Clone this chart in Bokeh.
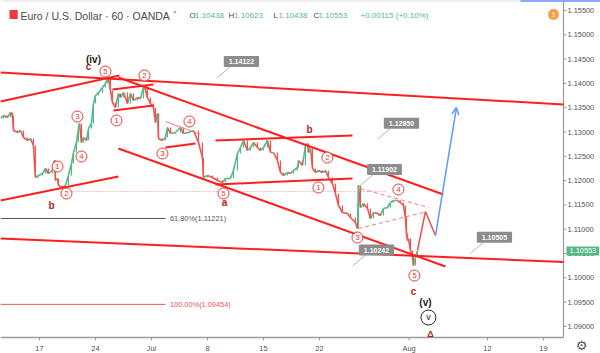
from bokeh.plotting import figure
from bokeh.models import (Range1d, FixedTicker, PrintfTickFormatter, LinearAxis, Label,
                          Arrow, OpenHead)
from bokeh.embed import file_html
from bokeh.resources import INLINE
from bokeh.core.properties import value

# ---------------- data (x = trading days from Mon 17 Jun 2019, y = EUR/USD) ----------------
price_day = [-3.48, -3.21, -2.86, -2.59, -2.41, -2.32, -1.96, -1.70, -1.43, -1.07, -0.80, -0.54,
             -0.36, -0.09, 0.27, 0.54, 0.80, 1.16, 1.34, 1.43, 1.61, 1.70, 2.05, 2.32, 2.59, 2.86,
             3.04, 3.30, 3.48, 3.57, 3.75, 3.93, 4.20, 4.38, 4.64, 4.82, 5.00, 5.27, 5.63, 5.89,
             6.07, 6.16, 6.34, 6.52, 6.79, 7.05, 7.23, 7.50, 7.86, 8.13, 8.39, 8.75, 9.02, 9.29,
             9.38, 9.64, 9.91, 10.18, 10.36, 10.54, 10.63, 10.98, 11.25, 11.43, 11.70, 12.14,
             12.59, 12.86, 13.30, 13.75, 14.20, 14.55, 14.64, 15.00, 15.45, 15.89, 16.34, 16.61,
             17.05, 17.32, 17.68, 17.95, 18.21, 18.57, 18.84, 19.11, 19.46, 19.73, 20.00, 20.36,
             20.63, 20.89, 21.25, 21.52, 21.79, 22.14, 22.41, 22.68, 23.04, 23.13, 23.48, 23.75,
             23.93, 24.02, 24.20, 24.38, 24.64, 24.91, 25.27, 25.54, 25.80, 26.16, 26.43, 26.70,
             27.05, 27.50, 27.77, 28.21, 28.39, 28.48, 28.66, 28.93, 29.29, 29.55, 29.82, 30.18,
             30.45, 30.71, 31.07, 31.34, 31.61, 31.96, 32.23, 32.50, 32.68, 32.77, 32.86, 32.95,
             33.13, 33.30, 33.39, 33.57, 33.75]
price_close = [1.13278, 1.13340, 1.13298, 1.13401, 1.13340, 1.13031, 1.12990, 1.13031, 1.12887,
               1.12825, 1.12866, 1.12722, 1.12064, 1.12105, 1.12146, 1.12249, 1.12146, 1.12208,
               1.12414, 1.12002, 1.12043, 1.11899, 1.11858, 1.11899, 1.12105, 1.12352, 1.12578,
               1.12784, 1.13072, 1.13175, 1.12784, 1.12887, 1.12825, 1.13072, 1.13175, 1.13586,
               1.13751, 1.13813, 1.13916, 1.13998, 1.14101, 1.14121, 1.13854, 1.13607, 1.13504,
               1.13792, 1.13710, 1.13813, 1.13586, 1.13792, 1.13648, 1.13710, 1.13689, 1.13916,
               1.13936, 1.13710, 1.13586, 1.13504, 1.13196, 1.13381, 1.12866, 1.12825, 1.12887,
               1.13093, 1.12969, 1.12990, 1.13093, 1.12969, 1.12990, 1.13031, 1.12784, 1.12475,
               1.12064, 1.12105, 1.12064, 1.12002, 1.11961, 1.12043, 1.12043, 1.12208, 1.12558,
               1.12681, 1.12825, 1.12619, 1.12681, 1.12784, 1.12681, 1.12619, 1.12681, 1.12825,
               1.12578, 1.12578, 1.12414, 1.12167, 1.12105, 1.12167, 1.12146, 1.12208, 1.12270,
               1.12414, 1.12311, 1.12722, 1.12763, 1.12578, 1.12660, 1.12249, 1.12167, 1.12208,
               1.12167, 1.12208, 1.12064, 1.11940, 1.11735, 1.11488, 1.11344, 1.11323, 1.11241,
               1.11138, 1.11014, 1.11902, 1.11447, 1.11529, 1.11426, 1.11220, 1.11344, 1.11323,
               1.11282, 1.11426, 1.11447, 1.11550, 1.11591, 1.11591, 1.11550, 1.11488, 1.11241,
               1.10912, 1.10767, 1.10809, 1.10562, 1.10459, 1.10253, 1.10418, 1.10553]

x_tick_days = [0, 5, 10, 15, 20, 25, 33, 40, 45]
x_tick_labels = ["17", "24", "Jul", "8", "15", "22", "Aug", "12", "19"]
y_ticks = [1.090, 1.095, 1.100, 1.105, 1.110, 1.115, 1.120, 1.125, 1.130, 1.135, 1.140,
           1.145, 1.150, 1.155]

# trend lines (start day, start price, end day, end price)
line_x0 = [-3.48, -3.48, 7.05, 7.05, -3.48, -3.48, 6.52, 6.61, 11.25, 15.71, 15.71]
line_y0 = [1.14224, 1.13628, 1.14121, 1.12661, 1.10809, 1.11591, 1.13875, 1.13442, 1.12681,
           1.12825, 1.11920]
line_x1 = [46.79, 7.14, 36.07, 36.25, 46.79, 7.05, 10.18, 10.18, 13.93, 27.95, 27.95]
line_y1 = [1.13566, 1.14163, 1.11714, 1.10233, 1.10325, 1.12084, 1.13977, 1.13545, 1.12763,
           1.12928, 1.12043]
thin_x0, thin_y0, thin_x1, thin_y1 = [11.25], [1.13216], [14.38], [1.12949]
dash_x0 = [28.66, 28.48]
dash_y0 = [1.11837, 1.11014]
dash_x1 = [34.73, 34.29]
dash_y1 = [1.11447, 1.11344]
dot_level, dot_from, dot_to = 1.11776, 2.14, 31.07
proj_day = [33.75, 34.46, 35.36]
proj_price = [1.10562, 1.11364, 1.10870]
blue_day = [35.36, 37.23]
blue_price = [1.10870, 1.13504]

fib_levels = [1.11221, 1.09454]
fib_texts = ["61.80%(1.11221)", "100.00%(1.09454)"]
fib_end_day = 11.25

callout_day = [15.89, 30.18, 28.66, 27.95, 38.48]
callout_price = [1.14122, 1.12850, 1.11902, 1.10242, 1.10505]
callout_text = ["1.14122", "1.12850", "1.11902", "1.10242", "1.10505"]

wave_day = [5.89, 3.39, 3.75, 1.61, 2.41, 6.88, 9.38, 13.39, 10.98, 16.43, 25.71, 24.91,
            32.05, 28.39, 33.48]
wave_price = [1.14245, 1.13319, 1.12496, 1.12290, 1.11735, 1.13237, 1.14163, 1.13216,
              1.12558, 1.11735, 1.12475, 1.11858, 1.11817, 1.10829, 1.10047]
wave_text = ["5", "3", "4", "1", "2", "1", "2", "4", "3", "5", "2", "1", "4", "3", "5"]

letter_day = [4.38, 1.07, 16.52, 24.11, 33.39]
letter_price = [1.14348, 1.11488, 1.11550, 1.13051, 1.09718]
letter_text = ["c", "b", "a", "b", "c"]

last_close = 1.10553

# ---------------- figure ----------------
FONT = "Liberation Sans"
RED = "#ff1f1f"
WAVE_RED = "#e53935"
LETTER_RED = "#b71c1c"
GREEN = "#53b987"
BLUE = "#5b9cf6"
AXIS_GREY = "#9a9a9a"
W, H = 600, 353             # frame covers the whole page; scales drawn inside it
CHART_W, CHART_H = 563, 337
X_LO = -3.48
DX = (46.79 - X_LO) / CHART_W
X_HI = X_LO + W * DX
X_SCALE = X_LO + CHART_W * DX
Y_HI = 1.15706
DY = (Y_HI - 1.08772) / CHART_H
Y_AX = Y_HI - CHART_H * DY          # price at the time-axis line
Y_LO = Y_HI - H * DY

p = figure(frame_width=W, frame_height=H, x_range=Range1d(X_LO, X_HI),
           y_range=Range1d(Y_LO, Y_HI), output_backend="svg", toolbar_location=None,
           x_axis_location=None, y_axis_location=None, title=None,
           min_border_left=0, min_border_top=0, min_border_right=0, min_border_bottom=0,
           outline_line_color=None, background_fill_color="white", border_fill_color="white")
p.grid.visible = False

# price scale: axis on the right edge, labels pulled back into the scale strip
yaxis = LinearAxis(ticker=FixedTicker(ticks=y_ticks), formatter=PrintfTickFormatter(format="%.5f"),
                   major_label_text_font_size="7.4px", major_label_text_color="#505050",
                   major_label_text_font=FONT, axis_line_color=None,
                   major_tick_line_color=None, major_tick_out=0, major_tick_in=0,
                   minor_tick_out=0, minor_tick_in=0, major_label_standoff=-(W - CHART_W - 4))
p.add_layout(yaxis, "right")
# time scale: axis on the bottom edge, labels pulled up under the chart
xaxis = LinearAxis(ticker=FixedTicker(ticks=x_tick_days),
                   major_label_overrides={d: l for d, l in zip(x_tick_days, x_tick_labels)},
                   major_label_text_font_size="7.4px", major_label_text_color="#505050",
                   major_label_text_font=FONT, axis_line_color=None,
                   major_tick_line_color=None, major_tick_out=0, major_tick_in=0,
                   minor_tick_out=0, minor_tick_in=0, major_label_standoff=-(H - CHART_H - 6))
p.add_layout(xaxis, "below")
# scale border lines and ticks
p.segment(x0=[X_SCALE], y0=[Y_AX], x1=[X_SCALE], y1=[Y_HI], line_color=AXIS_GREY, line_width=1.2)
p.segment(x0=[X_LO], y0=[Y_AX], x1=[X_SCALE], y1=[Y_AX], line_color=AXIS_GREY, line_width=1.5)
p.segment(x0=[X_SCALE] * len(y_ticks), y0=y_ticks, x1=[X_SCALE + 3 * DX] * len(y_ticks),
          y1=y_ticks, line_color=AXIS_GREY, line_width=1)
p.segment(x0=x_tick_days, y0=[Y_AX] * len(x_tick_days), x1=x_tick_days,
          y1=[Y_AX - 3 * DY] * len(x_tick_days), line_color=AXIS_GREY, line_width=1)
# top border of the chart window
p.segment(x0=[X_LO], y0=[Y_HI], x1=[X_HI], y1=[Y_HI], line_color="#dfe1e6", line_width=2)
p.segment(x0=[X_LO + 520 * DX], y0=[Y_HI], x1=[X_HI], y1=[Y_HI], line_color="#2962ff",
          line_width=2)

# dotted level
p.segment(x0=[dot_from], y0=[dot_level], x1=[dot_to], y1=[dot_level], line_color="#f28b8b",
          line_width=1, line_dash="1 2")

# price path (candle-like coloured moves)
opens = [price_close[0]] + price_close[:-1]
t_prev = [price_day[0]] + price_day[:-1]
colors = [GREEN if c >= o else "#ef5350" for o, c in zip(opens, price_close)]
p.segment(x0=t_prev, y0=opens, x1=price_day, y1=price_close, line_color=colors, line_width=1.6)
p.segment(x0=price_day, y0=opens, x1=price_day, y1=price_close, line_color=colors, line_width=1.2)

# fib levels
p.segment(x0=[X_LO], y0=[fib_levels[0]], x1=[fib_end_day], y1=[fib_levels[0]],
          line_color="#555555", line_width=1)
p.segment(x0=[X_LO], y0=[fib_levels[1]], x1=[fib_end_day], y1=[fib_levels[1]],
          line_color="#f0505a", line_width=1)
p.text(x=[fib_end_day + 0.4], y=[fib_levels[0]], text=[fib_texts[0]], text_baseline="middle",
       text_font_size="7.4px", text_color="#555555", text_font=value(FONT))
p.text(x=[fib_end_day + 0.4], y=[fib_levels[1]], text=[fib_texts[1]], text_baseline="middle",
       text_font_size="7.4px", text_color="#f0505a", text_font=value(FONT))

# trend lines
p.segment(x0=line_x0, y0=line_y0, x1=line_x1, y1=line_y1, line_color=RED, line_width=2)
p.segment(x0=thin_x0, y0=thin_y0, x1=thin_x1, y1=thin_y1, line_color="#f47c7c", line_width=1)
p.segment(x0=dash_x0, y0=dash_y0, x1=dash_x1, y1=dash_y1, line_color="#f47c7c", line_width=1,
          line_dash="4 3")
p.line(proj_day, proj_price, line_color="#f24b4b", line_width=1.5)
p.add_layout(Arrow(end=OpenHead(size=7, line_color=BLUE, line_width=1.5),
                   x_start=blue_day[0], y_start=blue_price[0], x_end=blue_day[1],
                   y_end=blue_price[1], line_color=BLUE, line_width=1.5))

# callouts
p.segment(x0=callout_day, y0=callout_price, x1=[d + 13 * DX for d in callout_day],
          y1=[v + 11 * DY for v in callout_price], line_color="#b5b5b5", line_width=1)
for d, v, t in zip(callout_day, callout_price, callout_text):
    p.add_layout(Label(x=d, y=v, x_offset=24, y_offset=16, text=t, text_align="center",
                       text_baseline="middle", text_font_size="7px", text_font_style="bold",
                       text_color="white", text_font=FONT, background_fill_color="#8c8c8c",
                       border_radius=1, padding=dict(left=5, right=5, top=3, bottom=3)))

# wave labels
p.scatter(wave_day, wave_price, size=11, marker="circle", fill_color="white", fill_alpha=0.85,
          line_color=WAVE_RED, line_width=1)
p.text(x=wave_day, y=wave_price, text=wave_text, text_align="center", text_baseline="middle",
       text_font_size="8px", text_color=WAVE_RED, text_font=value(FONT))
p.text(x=letter_day, y=letter_price, text=letter_text, text_align="center",
       text_baseline="middle", text_font_size="10px", text_font_style="bold",
       text_color=LETTER_RED, text_font=value(FONT))
p.text(x=[4.82, 34.46], y=[1.14492, 1.09492], text=["(iv)", "(v)"], text_align="center",
       text_baseline="middle", text_font_size="10px", text_font_style="bold",
       text_color="#222222", text_font=value(FONT))
p.scatter([34.73], [1.09183], size=15, marker="circle", fill_color="white",
          line_color="#222222", line_width=1)
p.text(x=[34.73], y=[1.09200], text=["v"], text_align="center", text_baseline="middle",
       text_font_size="9px", text_color="#222222", text_font=value(FONT))
p.text(x=[34.91], y=[1.0885], text=["Δ"], text_align="center", text_baseline="middle",
       text_font_size="9px", text_font_style="bold", text_color=LETTER_RED,
       text_font=value(FONT))

# header
p.add_layout(Label(x=9, y=H - 14, x_units="screen", y_units="screen", text=" ",
                   text_baseline="middle", text_font_size="8px", background_fill_color="#f23645",
                   padding=dict(left=3, right=3, top=0, bottom=0)))
p.add_layout(Label(x=20, y=H - 15, x_units="screen", y_units="screen",
                   text="Euro / U.S. Dollar · 60 · OANDA", text_baseline="middle",
                   text_font_size="10.5px", text_color="#4a4a4a", text_font=FONT))
p.add_layout(Label(x=172, y=H - 14, x_units="screen", y_units="screen", text="˅",
                   text_baseline="middle", text_font_size="9px", text_color="#4a4a4a",
                   text_font="DejaVu Sans"))
for lx, lt, col in [(189, "O", "#4a4a4a"), (194.5, "1.10438", GREEN), (228, "H", "#4a4a4a"),
                    (233.5, "1.10623", GREEN), (273, "L", "#4a4a4a"), (278, "1.10438", GREEN),
                    (313, "C", "#4a4a4a"), (318, "1.10553", GREEN),
                    (360, "+0.00115 (+0.10%)", GREEN)]:
    p.add_layout(Label(x=lx, y=H - 15, x_units="screen", y_units="screen", text=lt,
                       text_baseline="middle", text_font_size="8px", text_color=col,
                       text_font=FONT))
p.add_layout(Label(x=553, y=H - 14, x_units="screen", y_units="screen", text="!",
                   text_align="center", text_baseline="middle", text_font_size="8px",
                   text_font_style="bold", text_color="white", text_font=FONT,
                   background_fill_color="#f7a04a", border_radius=5,
                   padding=dict(left=4, right=4, top=1, bottom=1)))

# current price tag on the scale
p.add_layout(Label(x=CHART_W + 3, y=last_close, x_units="screen", y_units="data", text="1.10553",
                   text_baseline="middle", text_font_size="7.4px", text_color="white",
                   text_font=FONT, background_fill_color=GREEN,
                   padding=dict(left=3, right=3, top=2, bottom=2)))
# settings gear under the price scale
p.add_layout(Label(x=581, y=H - 345, x_units="screen", y_units="screen", text="⚙",
                   text_align="center", text_baseline="middle", text_font_size="13px",
                   text_color="#555555", text_font="DejaVu Sans"))

open("out.html", "w").write(file_html(p, INLINE))
